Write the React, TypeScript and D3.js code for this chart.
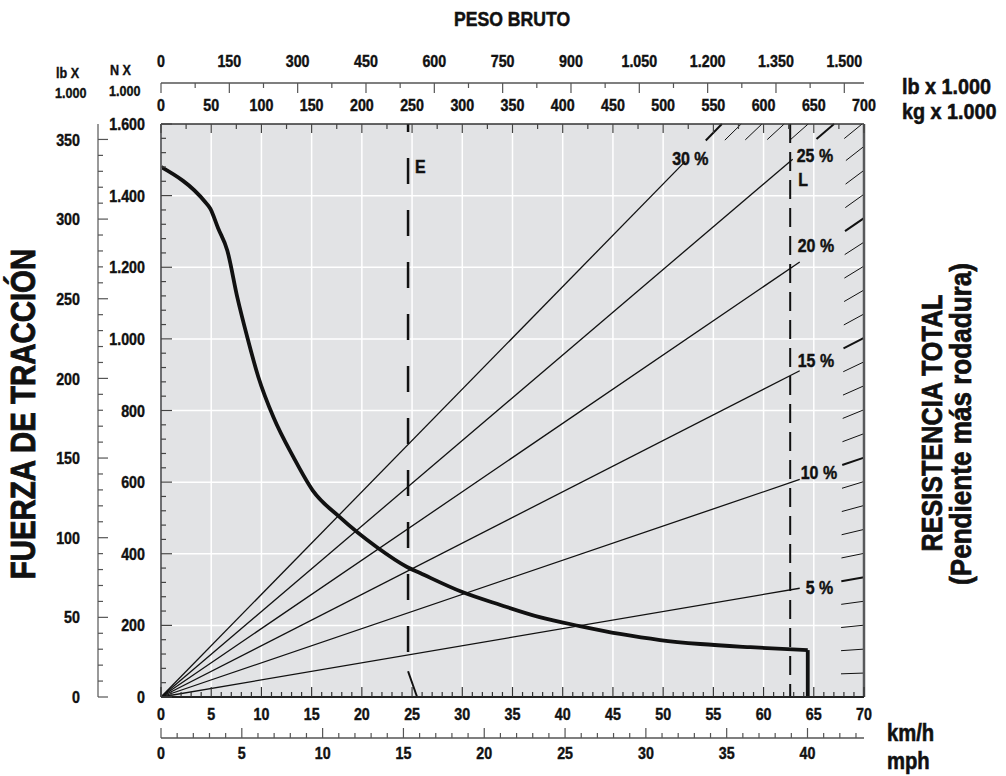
import React from 'react';
import * as d3 from 'd3';

// rimpull curve (km/h, kN)
const speedKmh = [0, 4.4, 4.9, 5.7, 6.6, 7.6, 8.6, 9.7, 11.2, 13.2, 15.1, 17.8, 21.5, 24.5, 25.8, 30, 33.8, 37.7, 41.7, 45.7, 49.7, 53.7, 58.7, 64.4];
const rimpullKN = [1480, 1382, 1364, 1308, 1247, 1116, 1004, 893, 781, 669, 577, 502, 418, 363, 346, 293, 257, 223, 198, 176, 159, 148, 139, 131];
const maxSpeed = 64.4;

// total resistance lines (%), and where each line stops (t gross weight)
const grades = [5, 10, 15, 20, 25, 30];
const gradeEndT = [636, 636, 636, 636, 629, 522];
const G_EFF = 9.55; // kN per t per 100 %

// empty / loaded weight markers (km/h position on chart)
const markE = 24.6;
const markL = 62.65;

// tick labels
const kmhTicks = [0, 5, 10, 15, 20, 25, 30, 35, 40, 45, 50, 55, 60, 65, 70];
const mphTicks = [0, 5, 10, 15, 20, 25, 30, 35, 40];
const knTicks = [0, 200, 400, 600, 800, 1000, 1200, 1400, 1600];
const lbForceTicks = [0, 50, 100, 150, 200, 250, 300, 350];
const lbWeightTicks = [0, 150, 300, 450, 600, 750, 900, 1050, 1200, 1350, 1500];
const kgTicks = [0, 50, 100, 150, 200, 250, 300, 350, 400, 450, 500, 550, 600, 650, 700];

const FONT = "'Liberation Sans', Arial, sans-serif";
const fmt = d3.formatLocale({ decimal: ',', thousands: '.', grouping: [3], currency: ['', ''] }).format(',');

type LabelProps = {
  x: number; y: number; size: number; anchor?: 'start' | 'middle' | 'end';
  rotate?: number; sx?: number; children: React.ReactNode;
};

// condensed heavy text: bold sans squeezed horizontally, with a thin outline
const Label = ({ x, y, size, anchor = 'start', rotate = 0, sx = 0.84, children }: LabelProps) => (
  <g transform={`translate(${x},${y}) rotate(${rotate}) scale(${sx},1)`}>
    <text dy="0.36em" textAnchor={anchor} fontSize={size} fontFamily={FONT} fontWeight={700}
      fill="#111" stroke="#111" strokeWidth={size * 0.025}>
      {children}
    </text>
  </g>
);

export default function App() {
  const W = 1006, H = 776;
  const L = 161, R = 864, T = 124, B = 697;

  const x = d3.scaleLinear().domain([0, 70]).range([L, R]);
  const xMph = d3.scaleLinear().domain([0, 70 / 1.609344]).range([L, R]);
  const xKg = d3.scaleLinear().domain([0, 700]).range([L, R]);
  const xLb = d3.scaleLinear().domain([0, 700 * 2.20462]).range([L, R]);
  const y = d3.scaleLinear().domain([0, 1600]).range([B, T]);
  const yLb = d3.scaleLinear().domain([0, 1600 / 4.44822]).range([B, T]);

  const curve = d3.line<number>()
    .x((_, i) => x(speedKmh[i]))
    .y(d => y(d))
    .curve(d3.curveMonotoneX);

  const mphAxisY = 738;
  const topAxisY = 83;
  const lbAxisX = 98;

  // hatch marks where each integer % line meets the frame
  const hatches = d3.range(1, 31).map(p => {
    const k = (p / 100) * G_EFF;
    let wt = 700, f = k * 700;
    if (f > 1600) { f = 1600; wt = 1600 / k; }
    const cx = xKg(wt), cy = y(f);
    const dx = xKg(0) - cx, dy = y(0) - cy;
    const s = 23 / Math.hypot(dx, dy);
    return { p, x1: cx, y1: cy, x2: cx + dx * s, y2: cy + dy * s };
  });

  const labelPos: Record<number, [number, number]> = {
    30: [50.9, 1505], 25: [63.3, 1513], 20: [63.4, 1262],
    15: [63.4, 941], 10: [63.7, 628], 5: [64.2, 307],
  };

  return (
    <svg width={W} height={H} style={{ position: 'absolute', left: 0, top: 0, background: '#fff' }}>
      {/* plot background */}
      <rect x={L} y={T} width={R - L} height={B - T} fill="#e2e3e5" />

      {/* white grid */}
      {kmhTicks.filter(v => v > 0 && v < 70).map(v => (
        <line key={'gx' + v} x1={x(v)} x2={x(v)} y1={T} y2={B} stroke="#fff" strokeWidth={1.5} />
      ))}
      {knTicks.filter(v => v > 0 && v < 1600).map(v => (
        <line key={'gy' + v} x1={L} x2={R} y1={y(v)} y2={y(v)} stroke="#fff" strokeWidth={1.5} />
      ))}

      {/* grade lines */}
      {grades.map((g, i) => {
        const wt = gradeEndT[i];
        const f = (g / 100) * G_EFF * wt;
        return <line key={'gr' + g} x1={xKg(0)} y1={y(0)} x2={xKg(wt)} y2={y(f)} stroke="#111" strokeWidth={1.3} />;
      })}
      {hatches.map(h => (
        <line key={'h' + h.p} x1={h.x1} y1={h.y1} x2={h.x2} y2={h.y2} stroke="#111"
          strokeWidth={h.p % 5 === 0 ? 2 : 1} />
      ))}
      {grades.map(g => (
        <Label key={'gl' + g} x={x(labelPos[g][0])} y={y(labelPos[g][1])} size={19}>{g} %</Label>
      ))}

      {/* E and L markers */}
      <line x1={x(markE)} x2={x(markE)} y1={T} y2={652} stroke="#111" strokeWidth={2.5}
        strokeDasharray="26 26" strokeDashoffset={18} />
      <line x1={x(markE)} y1={y(72)} x2={x(25.5)} y2={y(0)} stroke="#111" strokeWidth={2} />
      <Label x={x(markE) + 7} y={166} size={19}>E</Label>
      <line x1={x(markL)} x2={x(markL)} y1={T} y2={B} stroke="#111" strokeWidth={2}
        strokeDasharray="19 9" />
      <Label x={x(markL) + 8} y={179} size={19}>L</Label>

      {/* rimpull curve */}
      <path d={curve(rimpullKN) || ''} fill="none" stroke="#111" strokeWidth={3.8} strokeLinejoin="round" />
      <line x1={x(maxSpeed)} x2={x(maxSpeed)} y1={y(rimpullKN[rimpullKN.length - 1])} y2={B}
        stroke="#111" strokeWidth={3.8} />

      {/* frame */}
      <line x1={L} x2={R} y1={T} y2={T} stroke="#333" strokeWidth={1.5} />
      <line x1={L} x2={L} y1={T} y2={B} stroke="#6d6e71" strokeWidth={2} />
      <line x1={R} x2={R} y1={T} y2={B} stroke="#58595b" strokeWidth={2.5} />
      <line x1={L} x2={R} y1={B} y2={B} stroke="#222" strokeWidth={2} />

      {/* km/h axis (bottom of plot) */}
      {d3.range(0, 71).map(v => (
        <line key={'km' + v} x1={x(v)} x2={x(v)} y1={B} y2={B - (v % 5 === 0 ? 10 : 5)} stroke="#333" strokeWidth={1.2} />
      ))}
      {kmhTicks.map(v => (
        <Label key={'kml' + v} x={x(v)} y={714} size={17} anchor="middle">{v}</Label>
      ))}

      {/* mph axis */}
      <line x1={L} x2={R} y1={mphAxisY} y2={mphAxisY} stroke="#555" strokeWidth={1.5} />
      {d3.range(0, 44).map(v => (
        <line key={'mp' + v} x1={xMph(v)} x2={xMph(v)} y1={mphAxisY} y2={mphAxisY - (v % 5 === 0 ? 10 : 5)} stroke="#555" strokeWidth={1.2} />
      ))}
      {mphTicks.map(v => (
        <Label key={'mpl' + v} x={xMph(v)} y={753} size={17} anchor="middle">{v}</Label>
      ))}
      <Label x={887} y={733} size={23} sx={0.88}>km/h</Label>
      <Label x={887} y={761} size={23} sx={0.88}>mph</Label>

      {/* kN axis on the plot's left edge */}
      {d3.range(0, 1601, 40).map(v => (
        <line key={'kn' + v} x1={L} x2={L + (v % 200 === 0 ? 11 : 5)} y1={y(v)} y2={y(v)} stroke="#444" strokeWidth={1.2} />
      ))}
      {knTicks.map(v => (
        <Label key={'knl' + v} x={145} y={y(v)} size={17} anchor="end">{fmt(v)}</Label>
      ))}

      {/* lb force axis */}
      <line x1={lbAxisX} x2={lbAxisX} y1={T} y2={B} stroke="#555" strokeWidth={1.2} />
      {d3.range(0, 351, 10).map(v => (
        <line key={'lbf' + v} x1={lbAxisX} x2={lbAxisX + (v % 50 === 0 ? 10 : 5)} y1={yLb(v)} y2={yLb(v)} stroke="#555" strokeWidth={1.2} />
      ))}
      {lbForceTicks.map(v => (
        <Label key={'lbfl' + v} x={80} y={yLb(v)} size={17} anchor="end">{v}</Label>
      ))}
      <Label x={56} y={73} size={15}>lb X</Label>
      <Label x={55} y={93} size={15}>1.000</Label>
      <Label x={110} y={70} size={15}>N X</Label>
      <Label x={109} y={91} size={15}>1.000</Label>

      {/* top weight axes */}
      <line x1={L} x2={R} y1={topAxisY} y2={topAxisY} stroke="#555" strokeWidth={1.5} />
      {d3.range(0, 1501, 75).map(v => (
        <line key={'lbw' + v} x1={xLb(v)} x2={xLb(v)} y1={topAxisY} y2={topAxisY + (v % 150 === 0 ? 10 : 5)} stroke="#555" strokeWidth={1.2} />
      ))}
      {lbWeightTicks.map(v => (
        <Label key={'lbwl' + v} x={xLb(v)} y={61} size={17} anchor="middle">{fmt(v)}</Label>
      ))}
      {d3.range(0, 701, 25).map(v => (
        <line key={'kg' + v} x1={xKg(v)} x2={xKg(v)} y1={T} y2={T + (v % 50 === 0 ? 9 : 5)} stroke="#444" strokeWidth={1.2} />
      ))}
      {kgTicks.map(v => (
        <Label key={'kgl' + v} x={xKg(v)} y={105} size={17} anchor="middle">{v}</Label>
      ))}
      <Label x={902} y={86} size={22} sx={0.9}>lb x 1.000</Label>
      <Label x={902} y={111} size={22} sx={0.9}>kg x 1.000</Label>

      {/* titles */}
      <Label x={512} y={18} size={21} anchor="middle">PESO BRUTO</Label>
      <Label x={22} y={414} size={35} anchor="middle" rotate={-90}>FUERZA DE TRACCIÓN</Label>
      <Label x={931} y={423} size={30} anchor="middle" rotate={-90}>RESISTENCIA TOTAL</Label>
      <Label x={961} y={424} size={29} anchor="middle" rotate={-90} sx={0.9}>(Pendiente más rodadura)</Label>
    </svg>
  );
}
